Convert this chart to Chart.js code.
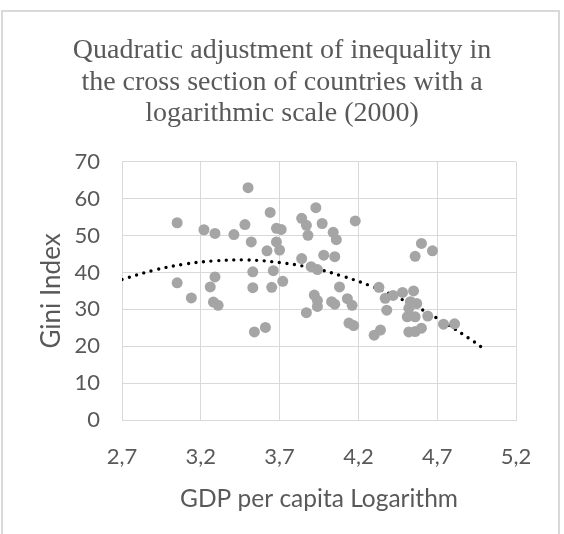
<!DOCTYPE html>
<html><head><meta charset="utf-8">
<script src="https://cdn.jsdelivr.net/npm/chart.js@4/dist/chart.umd.min.js"></script>
<style>
html,body{margin:0;padding:0;background:#fff;}
#wrap{position:relative;width:564px;height:534px;overflow:hidden;background:#fff;}
#frame{position:absolute;left:1px;top:10px;width:559px;height:540px;border:2px solid #d9d9d9;box-sizing:border-box;}
canvas{position:absolute;left:0;top:0;}
</style></head><body>
<div id="wrap"><div id="frame"></div><canvas id="c" width="564" height="534"></canvas></div>
<script>
// Scatter data: log10 GDP per capita vs Gini index
const gdpLog = [3.05,3.05,3.14,3.22,3.29,3.29,3.26,3.28,3.31,3.41,3.48,3.50,3.52,3.53,3.53,3.54,3.61,3.64,3.68,3.71,3.68,3.62,3.70,3.66,3.65,3.72,
  3.84,3.87,3.88,3.93,3.97,4.04,4.06,4.18,3.84,3.98,4.05,3.90,3.94,3.92,3.94,3.94,3.87,4.03,4.05,4.08,4.13,4.16,4.14,4.17,4.30,4.34,
  4.33,4.37,4.38,4.42,4.48,4.55,4.53,4.57,4.52,4.51,4.56,4.52,4.56,4.60,4.64,4.56,4.60,4.67,4.74,4.81];
const gini = [53.5,37.2,33.1,51.6,50.6,38.8,36.1,32.0,31.1,50.3,53.0,63.0,48.3,40.2,35.9,23.9,25.1,56.3,52.0,51.7,48.3,45.9,46.1,40.5,36.0,37.6,
  54.7,52.8,50.1,57.6,53.3,50.9,48.9,54.0,43.8,44.7,44.3,41.6,40.8,33.9,32.4,30.8,29.1,32.1,31.4,36.1,32.9,31.1,26.3,25.6,23.0,24.4,
  36.0,33.0,29.8,33.8,34.6,35.0,32.1,31.6,30.3,28.0,28.0,23.9,24.0,24.9,28.2,44.4,47.9,45.9,26.0,26.1];
// Quadratic trend line
const trendX = [2.7,2.9,3.1,3.3,3.5,3.7,3.9,4.1,4.3,4.5,4.7,4.9,5.0];
const trendY = [38.1,40.6,42.3,43.2,43.4,42.7,41.3,39.0,36.0,32.2,27.6,22.2,19.2];
const xTicks = [2.7,3.2,3.7,4.2,4.7,5.2];
const xTickLabels = ['2,7','3,2','3,7','4,2','4,7','5,2'];
const yTicks = [0,10,20,30,40,50,60,70];
const titleLines = ['Quadratic adjustment of inequality in','the cross section of countries with a','logarithmic scale (2000)'];

const grey = '#595959';
const gridC = '#d9d9d9';
const sans = 'Lato';

new Chart(document.getElementById('c'), {
  type: 'scatter',
  data: {
    datasets: [
      {
        label: 'Gini',
        data: gdpLog.map((x, i) => ({x, y: gini[i]})),
        backgroundColor: '#a5a5a5',
        borderWidth: 0,
        pointRadius: 5.5,
        pointHoverRadius: 5.5
      },
      {
        label: 'Trend',
        data: trendX.map((x, i) => ({x, y: trendY[i]})),
        showLine: true,
        pointRadius: 0,
        borderColor: '#000',
        borderWidth: 3.4,
        borderDash: [0, 7.6],
        borderCapStyle: 'round',
        tension: 0.4,
        fill: false
      }
    ]
  },
  options: {
    responsive: false,
    animation: false,
    devicePixelRatio: 1,
    layout: {padding: {left: 0, right: 0, top: 0, bottom: 0}},
    plugins: {
      legend: {display: false},
      tooltip: {enabled: false},
      title: {
        display: true,
        text: titleLines,
        color: grey,
        font: {family: 'Liberation Serif', size: 28, weight: 'normal', lineHeight: 1.13},
        padding: {top: 35, bottom: 32}
      }
    },
    scales: {
      x: {
        type: 'linear',
        min: 2.7, max: 5.2,
        afterBuildTicks: s => { s.ticks = xTicks.map(v => ({value: v})); },
        afterFit: s => { s.height = 114; },
        grid: {color: gridC, lineWidth: 1, drawTicks: false},
        border: {color: gridC, width: 1},
        ticks: {color: grey, font: {family: sans, size: 22}, padding: 24, callback: (v, i) => xTickLabels[i]},
        title: {display: true, text: 'GDP per capita Logarithm', color: grey, font: {family: sans, size: 24.5}, padding: {top: 0, bottom: 20}}
      },
      y: {
        type: 'linear',
        min: 0, max: 70,
        afterBuildTicks: s => { s.ticks = yTicks.map(v => ({value: v})); },
        afterFit: s => { s.width = 122; },
        grid: {color: gridC, lineWidth: 1, drawTicks: false},
        border: {color: gridC, width: 1},
        ticks: {color: grey, font: {family: sans, size: 22}, padding: 22},
        title: {display: true, text: 'Gini Index', color: grey, font: {family: sans, size: 26}, padding: {top: 36, bottom: 0}}
      },
      yR: {
        type: 'linear',
        position: 'right',
        display: true,
        afterFit: s => { s.width = 48; },
        grid: {display: false, drawTicks: false},
        border: {display: false},
        ticks: {display: false}
      }
    }
  }
});
</script>
</body></html>
